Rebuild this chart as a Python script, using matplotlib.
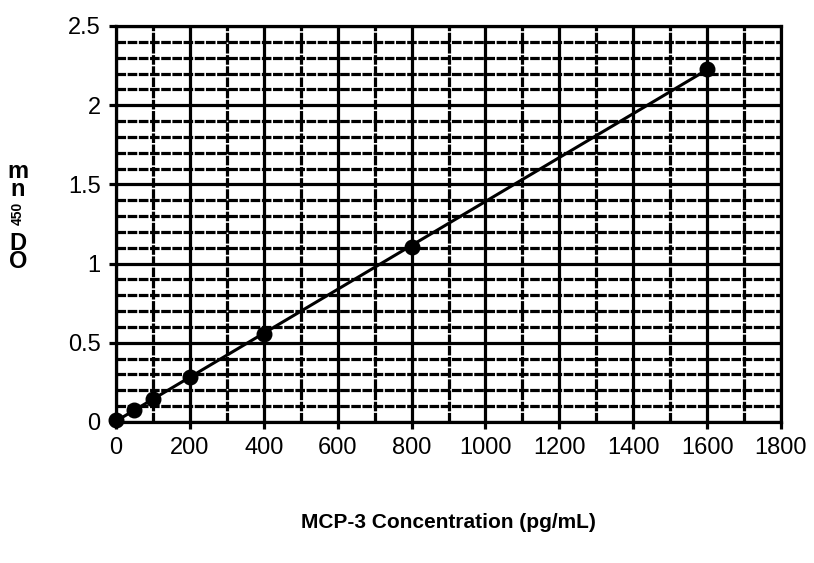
import matplotlib.pyplot as plt
import numpy as np
from matplotlib.ticker import MultipleLocator

plt.rcParams['font.family'] = ['Liberation Sans', 'DejaVu Sans']

# standard curve
conc = [0, 50, 100, 200, 400, 800, 1600]
od = [0.012, 0.075, 0.145, 0.285, 0.555, 1.105, 2.23]

fig = plt.figure(figsize=(8.14, 5.63), dpi=100)
ax = fig.add_axes([116 / 814, 1 - 422 / 563, 665 / 814, 396 / 563])

slope, icpt = np.polyfit(conc, od, 1)
xs = np.array([0, 1600])
ax.plot(xs, slope * xs + icpt, color='black', lw=2.2, zorder=3)
ax.scatter(conc, od, s=110, color='black', zorder=4, clip_on=False)

ax.set_xlim(0, 1800)
ax.set_ylim(0, 2.5)
ax.xaxis.set_major_locator(MultipleLocator(200))
ax.xaxis.set_minor_locator(MultipleLocator(100))
ax.yaxis.set_major_locator(MultipleLocator(0.5))
ax.yaxis.set_minor_locator(MultipleLocator(0.1))

ax.grid(which='major', color='black', lw=2.3, ls='-')
ax.grid(which='minor', color='black', lw=2.3, ls=(0, (3, 0.5)))
ax.set_axisbelow(True)

for s in ax.spines.values():
    s.set_linewidth(2.3)
ax.tick_params(which='major', direction='out', length=5, width=2.3,
               labelsize=17, pad=6)
ax.tick_params(which='minor', length=0)
ax.set_yticks([0, 0.5, 1, 1.5, 2, 2.5], ['0', '0.5', '1', '1.5', '2', '2.5'])

fig.text(0.5 * (116 + 781) / 814, 1 - 522 / 563, 'MCP-3 Concentration (pg/mL)',
         ha='center', va='center', fontsize=15, fontweight='bold')

# stacked y label, read bottom to top: OD 450 nm
for ch, y in [('m', 172), ('n', 189), ('D', 243), ('O', 262)]:
    fig.text(18 / 814, 1 - y / 563, ch, ha='center', va='center',
             fontsize=17, fontweight='bold')
fig.text(18 / 814, 1 - 213 / 563, '450', ha='center', va='center',
         fontsize=10, fontweight='bold', rotation=90)

fig.savefig('out.png', dpi=100)
